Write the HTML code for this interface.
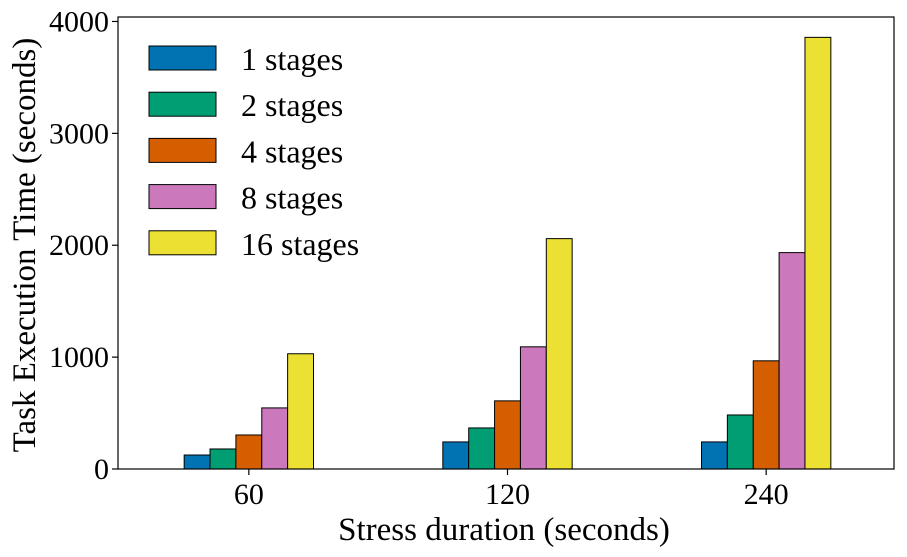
<!DOCTYPE html>
<html><head><meta charset="utf-8"><style>
html,body{margin:0;padding:0;background:#fff;}
svg{display:block;font-family:"Liberation Serif","DejaVu Serif",serif;}
</style></head><body>
<svg id="chart" width="907" height="557" viewBox="0 0 907 557" xmlns="http://www.w3.org/2000/svg"></svg>
<script>
const categories = ["60", "120", "240"];
const seriesNames = ["1 stages", "2 stages", "4 stages", "8 stages", "16 stages"];
const seriesColors = ["#0173b2", "#029e73", "#d55e00", "#cc78bc", "#ece133"];
const s1 = [125, 242, 242];
const s2 = [179, 367, 483];
const s4 = [304, 609, 967];
const s8 = [546, 1092, 1934];
const s16 = [1030, 2059, 3858];
const yTicks = [0, 1000, 2000, 3000, 4000];

const series = [s1, s2, s4, s8, s16];
const NS = "http://www.w3.org/2000/svg";
const svg = document.getElementById("chart");
const L = 118, R = 894, T = 17, B = 469;
const yMax = 4040;
const y = v => B - v / yMax * (B - T);
const x = i => L + 1.5 + (i + 0.5) / categories.length * (R - L);
const bw = 0.1 / categories.length * (R - L);
function mk(tag, attrs, text) {
  const e = document.createElementNS(NS, tag);
  for (const k in attrs) e.setAttribute(k, attrs[k]);
  if (text !== undefined) e.textContent = text;
  svg.appendChild(e);
  return e;
}
series.forEach((s, si) => {
  s.forEach((v, ci) => {
    const cx = x(ci) + (si - 2) * bw;
    const r = mk("rect", {x: cx - bw / 2, y: y(v), width: bw, height: B - y(v), fill: seriesColors[si], stroke: "#000", "stroke-width": 1});
    
    
  });
});
const fr = mk("rect", {x: L, y: T, width: R - L, height: B - T, fill: "none", stroke: "#000", "stroke-width": 1.2});


yTicks.forEach(t => {
  const ln = mk("line", {x1: L - 6, x2: L, y1: y(t), y2: y(t), stroke: "#000", "stroke-width": 1.2});
  
  
  const tx = mk("text", {x: L - 9, y: y(t) + 10, "text-anchor": "end", "font-size": 30}, String(t));
  
  
});
categories.forEach((c, i) => {
  const ln = mk("line", {x1: x(i), x2: x(i), y1: B, y2: B + 6, stroke: "#000", "stroke-width": 1.2});
  
  
  const tx = mk("text", {x: x(i), y: B + 35, "text-anchor": "middle", "font-size": 30}, c);
  
  
});
const xt = mk("text", {x: (L + R) / 2 - 2, y: 540, "text-anchor": "middle", "font-size": 33}, "Stress duration (seconds)");


const yt = mk("text", {x: 0, y: 0, "text-anchor": "middle", "font-size": 33, transform: "translate(35," + ((T + B) / 2 + 2) + ") rotate(-90)"}, "Task Execution Time (seconds)");


seriesNames.forEach((n, i) => {
  const yy = 46 + i * 46.2;
  const p = mk("rect", {x: 149, y: yy, width: 67, height: 24, fill: seriesColors[i], stroke: "#000", "stroke-width": 1});
  
  
  const t = mk("text", {x: 241, y: yy + 24, "font-size": 32}, n);
  
  
});
</script>
</body></html>
